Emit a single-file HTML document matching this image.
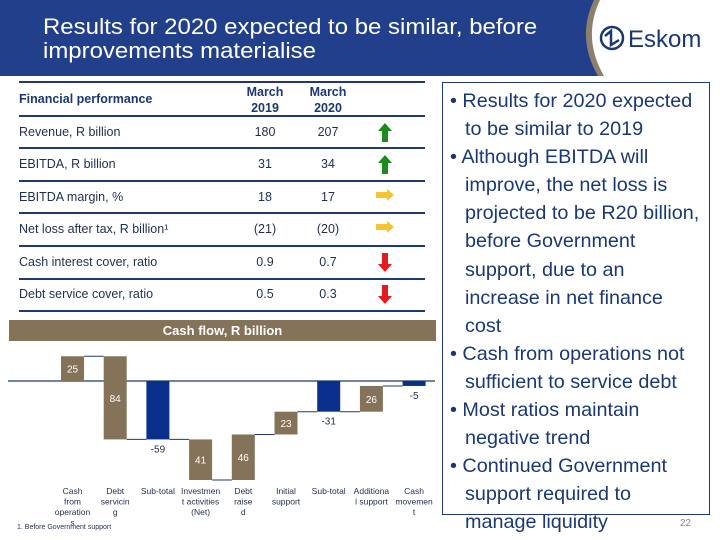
<!DOCTYPE html>
<html><head><meta charset="utf-8"><style>
body{margin:0;width:720px;height:540px;overflow:hidden;background:#fff;font-family:"Liberation Sans",sans-serif;position:relative}
.abs{position:absolute}
.row{position:absolute;left:19px;width:405px;font-size:12.5px;color:#1f2f4f}
.hl{position:absolute;left:19px;width:406px;height:2px;background:#1f3a6e}
.bul{position:absolute;left:442px;top:82px;width:268px;height:433px;border:1px solid #1f3a6e;box-sizing:border-box}
.bt{position:absolute;left:450px;top:87px;width:262px;font-size:19.8px;line-height:28.1px;color:#1b3870;white-space:nowrap}
.bt p{margin:0;padding-left:15px;text-indent:-15px}
</style></head><body>
<svg class="abs" style="left:0;top:0" width="720" height="78">
<rect x="0" y="0" width="720" height="76" fill="#213f8a"/>
<path d="M594,0 Q576,38 598,76 L720,76 L720,0 Z" fill="#8c7f6b"/>
<path d="M600,0 Q582,38 604,76 L720,76 L720,0 Z" fill="#fff"/>
<circle cx="612" cy="38" r="11" fill="none" stroke="#1b3870" stroke-width="2.5"/>
<path d="M605,36 L611,31 L611,45 L619,40" fill="none" stroke="#1b3870" stroke-width="2.5"/>
<text x="628" y="47" font-size="24" fill="#1b3870" font-family="Liberation Sans">Eskom</text>
</svg>
<div class="abs" style="left:43px;top:15px;font-size:22.5px;line-height:24px;color:#fff;white-space:nowrap;transform:scaleX(1.065);transform-origin:left">Results for 2020 expected to be similar, before<br>improvements materialise</div>

<div>
<div class="hl" style="top:81px"></div><div class="hl" style="top:115px"></div><div class="hl" style="top:147px"></div><div class="hl" style="top:180px"></div><div class="hl" style="top:212px"></div><div class="hl" style="top:245px"></div><div class="hl" style="top:278px"></div><div class="hl" style="top:310px"></div>
<div class="row" style="top:92px;font-weight:bold;color:#1b3870;font-size:12.5px">Financial performance</div>
<div class="abs" style="left:240px;top:84px;width:50px;text-align:center;font-weight:bold;color:#1b3870;font-size:12.5px;line-height:16px">March<br>2019</div>
<div class="abs" style="left:303px;top:84px;width:50px;text-align:center;font-weight:bold;color:#1b3870;font-size:12.5px;line-height:16px">March<br>2020</div>
</div>
<div id="rows"></div>

<div class="bul"></div>
<div class="bt">
<p>• Results for 2020 expected<br>to be similar to 2019</p>
<p>• Although EBITDA will<br>improve, the net loss is<br>projected to be R20 billion,<br>before Government<br>support, due to an<br>increase in net finance<br>cost</p>
<p>• Cash from operations not<br>sufficient to service debt</p>
<p>• Most ratios maintain<br>negative trend</p>
<p>• Continued Government<br>support required to<br>manage liquidity</p>
</div>
<div class="abs" style="left:680px;top:518px;font-size:10px;color:#888">22</div>

<div class="abs" style="left:9px;top:320px;width:427px;height:21px;background:#857359;color:#fff;font-weight:bold;font-size:13px;line-height:21px;text-align:center">Cash flow, R billion</div>
<svg id="chart" class="abs" style="left:0;top:341px" width="440" height="199"></svg>
<div class="abs" style="left:17px;top:524px;font-size:7px;color:#1f2f4f">1. Before Government support</div>

<script>
const rowLabels=["Revenue, R billion","EBITDA, R billion","EBITDA margin, %","Net loss after tax, R billion¹","Cash interest cover, ratio","Debt service cover, ratio"];
const v2019=["180","31","18","(21)","0.9","0.5"];
const v2020=["207","34","17","(20)","0.7","0.3"];
const trends=["up","up","flat","flat","down","down"];
const rowTops=[125,157,190,222,255,287];
const rc=document.getElementById('rows');
rowLabels.forEach((l,i)=>{
 const y=rowTops[i];
 const d=document.createElement('div');d.className='row';d.style.top=y+'px';d.textContent=l;
 
 rc.appendChild(d);
 [[v2019[i],240],[v2020[i],303]].forEach(([t,x])=>{const e=document.createElement('div');e.className='abs';e.style.cssText=`left:${x}px;top:${y}px;width:50px;text-align:center;font-size:12.5px;color:#1f2f4f`;e.textContent=t;
 
 rc.appendChild(e);});
 const s=document.createElementNS('http://www.w3.org/2000/svg','svg');s.setAttribute('width','20');s.setAttribute('height','20');s.style.cssText=`position:absolute;left:375px;top:${y-3}px`;
 
 
 let p;
 if(trends[i]=='up')p='<polygon points="10,1 17,9 13,9 13,20 7,20 7,9 3,9" fill="#1e8a1e"/>';
 else if(trends[i]=='down')p='<polygon points="10,20 17,12 13,12 13,1 7,1 7,12 3,12" fill="#e31b1b"/>';
 else p='<polygon points="19,8 12,2 12,5 1,5 1,11 12,11 12,14" fill="#f5c232"/>';
 s.innerHTML=p;rc.appendChild(s);
});

const cats=["Cash from operations","Debt servicing","Sub-total","Investment activities (Net)","Debt raised","Initial support","Sub-total","Additional support","Cash movement"];
const catLines=[["Cash","from","operation","s"],["Debt","servicin","g"],["Sub-total"],["Investmen","t activities","(Net)"],["Debt","raise","d"],["Initial","support"],["Sub-total"],["Additiona","l support"],["Cash","movemen","t"]];
const deltas=[25,-84,null,-41,46,23,null,26,null];
const isTotal=[false,false,true,false,false,false,true,false,true];
const svg=document.getElementById('chart');const NS='http://www.w3.org/2000/svg';
const baseY=40, k=0.99, x0=61, step=42.7, bw=23;
const yv=v=>baseY-v*k;
function mk(t,a,name){const e=document.createElementNS(NS,t);for(const q in a)e.setAttribute(q,a[q]);
 
 svg.appendChild(e);return e;}
mk('line',{x1:8,x2:435,y1:baseY,y2:baseY,stroke:'#1f3a6e','stroke-width':1.2},'zero-axis');
let run=0;
cats.forEach((c,i)=>{
 const x=x0+i*step;let a,b,val;
 if(isTotal[i]){a=0;b=run;val=run;}else{a=run;b=run+deltas[i];val=deltas[i];run=b;}
 const top=Math.max(a,b),bot=Math.min(a,b);
 mk('rect',{x:x,y:yv(top),width:bw,height:Math.max(1,(top-bot)*k),fill:isTotal[i]?'#0a2f8c':'#857359'},'bar');
 if(i<cats.length-1)mk('line',{x1:x+bw,x2:x+step,y1:yv(run),y2:yv(run),stroke:'#1f3a6e','stroke-width':1},'connector');
 let ty,col='#fff',lab=String(val);
 if(isTotal[i]){ty=yv(bot)+13;col='#1f2f4f';}
 else{ty=yv((a+b)/2)+4;lab=String(Math.abs(val));}
 const t=mk('text',{x:x+bw/2,y:ty,'text-anchor':'middle','font-size':10,fill:col,'font-family':'Liberation Sans'},'bar-value');t.textContent=lab;
 catLines[i].forEach((ln,j)=>{const tt=mk('text',{x:x+bw/2,y:153+j*10.5,'text-anchor':'middle','font-size':8.5,fill:'#1f2f4f','font-family':'Liberation Sans'},'category-label');tt.textContent=ln;});
});
</script>
</body></html>
